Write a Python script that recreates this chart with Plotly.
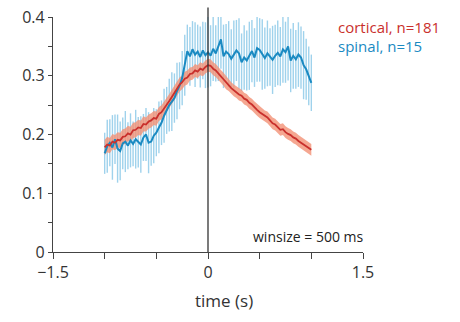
import numpy as np
import plotly.graph_objects as go

time = [round(-1 + 0.025 * i, 3) for i in range(81)]

cortical = [0.178, 0.183, 0.181, 0.188, 0.186, 0.191, 0.190, 0.196, 0.197, 0.202,
            0.200, 0.207, 0.208, 0.212, 0.211, 0.218, 0.217, 0.222, 0.224, 0.228,
            0.227, 0.235, 0.238, 0.244, 0.249, 0.257, 0.264, 0.272, 0.278, 0.285,
            0.289, 0.295, 0.297, 0.303, 0.304, 0.309, 0.307, 0.312, 0.310, 0.315,
            0.318, 0.317, 0.312, 0.309, 0.303, 0.299, 0.294, 0.288, 0.284, 0.279,
            0.275, 0.272, 0.268, 0.266, 0.261, 0.259, 0.254, 0.251, 0.246, 0.242,
            0.238, 0.235, 0.231, 0.229, 0.224, 0.219, 0.217, 0.212, 0.208, 0.209,
            0.204, 0.201, 0.199, 0.195, 0.193, 0.189, 0.186, 0.183, 0.179, 0.176,
            0.174]
cortical_err = [0.013, 0.013, 0.013, 0.013, 0.013, 0.013, 0.013, 0.013, 0.013, 0.013,
                0.013, 0.013, 0.013, 0.013, 0.013, 0.013, 0.012, 0.012, 0.012, 0.012,
                0.012, 0.012, 0.012, 0.012, 0.012, 0.012, 0.012, 0.012, 0.012, 0.012,
                0.012, 0.012, 0.012, 0.011, 0.011, 0.011, 0.011, 0.011, 0.011, 0.011,
                0.011, 0.011, 0.011, 0.011, 0.011, 0.011, 0.011, 0.011, 0.010, 0.010,
                0.010, 0.010, 0.010, 0.010, 0.010, 0.010, 0.010, 0.010, 0.010, 0.010,
                0.010, 0.010, 0.010, 0.010, 0.010, 0.010, 0.010, 0.010, 0.010, 0.010,
                0.010, 0.010, 0.010, 0.010, 0.010, 0.010, 0.010, 0.010, 0.010, 0.010,
                0.010]

spinal = [0.168, 0.180, 0.186, 0.178, 0.192, 0.176, 0.172, 0.185, 0.188, 0.181,
          0.190, 0.184, 0.192, 0.187, 0.183, 0.195, 0.200, 0.186, 0.188, 0.198,
          0.203, 0.212, 0.220, 0.232, 0.241, 0.250, 0.256, 0.262, 0.274, 0.283,
          0.296, 0.318, 0.342, 0.333, 0.345, 0.336, 0.341, 0.332, 0.343, 0.335,
          0.340, 0.334, 0.346, 0.338, 0.349, 0.362, 0.333, 0.341, 0.337, 0.329,
          0.336, 0.343, 0.338, 0.323, 0.331, 0.326, 0.334, 0.342, 0.331, 0.347,
          0.344, 0.336, 0.330, 0.338, 0.332, 0.327, 0.334, 0.339, 0.333, 0.345,
          0.340, 0.350, 0.326, 0.334, 0.328, 0.336, 0.331, 0.318, 0.311, 0.300,
          0.288]
spinal_err = [0.035, 0.045, 0.040, 0.055, 0.042, 0.058, 0.050, 0.044, 0.052, 0.040,
              0.046, 0.038, 0.050, 0.043, 0.048, 0.040, 0.045, 0.052, 0.041, 0.047,
              0.040, 0.044, 0.038, 0.046, 0.040, 0.045, 0.050, 0.042, 0.048, 0.040,
              0.046, 0.052, 0.045, 0.050, 0.048, 0.055, 0.046, 0.052, 0.049, 0.056,
              0.060, 0.052, 0.055, 0.048, 0.058, 0.050, 0.054, 0.047, 0.056, 0.050,
              0.058, 0.052, 0.060, 0.049, 0.055, 0.051, 0.058, 0.053, 0.050, 0.057,
              0.054, 0.060, 0.052, 0.056, 0.049, 0.058, 0.053, 0.055, 0.050, 0.057,
              0.052, 0.058, 0.054, 0.056, 0.050, 0.055, 0.053, 0.058, 0.052, 0.050,
              0.048]

x_ticks = [-1.5, -1.0, -0.5, 0.0, 0.5, 1.0, 1.5]
x_ticktext = ["\u22121.5", "", "", "0", "", "", "1.5"]
y_ticks = [0, 0.05, 0.1, 0.15, 0.2, 0.25, 0.3, 0.35, 0.4]
y_ticktext = ["0", "", "0.1", "", "0.2", "", "0.3", "", "0.4"]

RED = "#c9302c"
BLUE = "#1a8ac2"
BLUE_ERR = "#9fd2ec"
FONT = "Open Sans"

c = np.array(cortical)
ce = np.array(cortical_err)

fig = go.Figure()
fig.add_trace(go.Scatter(
    x=time, y=spinal, mode="markers", marker=dict(size=0.1, color=BLUE_ERR, opacity=0),
    error_y=dict(type="data", array=spinal_err, visible=True, color=BLUE_ERR, thickness=1.4, width=0),
    showlegend=False, hoverinfo="skip"))
fig.add_trace(go.Scatter(x=time, y=list(c + ce), mode="lines", line=dict(width=0, color="#f4a08a"),
                         showlegend=False, hoverinfo="skip"))
fig.add_trace(go.Scatter(x=time, y=list(c - ce), mode="lines", line=dict(width=0, color="#f4a08a"),
                         fill="tonexty", fillcolor="rgba(243,145,118,0.8)",
                         showlegend=False, hoverinfo="skip"))
fig.add_trace(go.Scatter(x=time, y=spinal, mode="lines", line=dict(color=BLUE, width=2),
                         showlegend=False))
fig.add_trace(go.Scatter(x=time, y=cortical, mode="lines", line=dict(color=RED, width=1.8),
                         showlegend=False))

fig.add_shape(type="line", xref="paper", yref="paper", x0=0.5, x1=0.5, y0=0, y1=1.04,
              line=dict(color="#333", width=1.3))

fig.add_annotation(text="cortical, n=181", xref="paper", yref="paper", x=1.0, y=1.0,
                   xanchor="left", yanchor="middle", xshift=-27, yshift=-10, showarrow=False,
                   font=dict(color=RED, size=15, family=FONT))
fig.add_annotation(text="spinal, n=15", xref="paper", yref="paper", x=1.0, y=1.0,
                   xanchor="left", yanchor="middle", xshift=-27, yshift=-29, showarrow=False,
                   font=dict(color=BLUE, size=15, family=FONT))
fig.add_annotation(text="winsize = 500 ms", xref="paper", yref="paper", x=1.0, y=0,
                   xanchor="right", yanchor="middle", xshift=2, yshift=16, showarrow=False,
                   font=dict(color="#222", size=14, family=FONT))
fig.add_annotation(text="time (s)", xref="paper", yref="paper", x=0.5, y=0,
                   xanchor="center", yanchor="middle", xshift=16, yshift=-48, showarrow=False,
                   font=dict(color="#333", size=17, family=FONT))

fig.update_layout(
    width=460, height=322,
    margin=dict(l=53, r=97, t=17, b=70),
    paper_bgcolor="white", plot_bgcolor="white",
    font=dict(family=FONT, size=16, color="#333"),
    xaxis=dict(range=[-1.5, 1.5], tickvals=x_ticks, ticktext=x_ticktext, ticks="outside",
               ticklen=6, tickwidth=1.3, tickcolor="#444", showline=True, linecolor="#444",
               linewidth=1.3, showgrid=False, zeroline=False, automargin=False),
    yaxis=dict(range=[0, 0.4], tickvals=y_ticks, ticktext=y_ticktext, ticks="outside",
               ticklen=4, tickwidth=1.3, tickcolor="#444", showline=True, linecolor="#444",
               linewidth=1.3, showgrid=False, zeroline=False, automargin=False),
)

# remove the browser's default 8px body margin so the 460x322 figure fills the window
fig.write_html("out.html", config={"displayModeBar": False},
               post_script="document.body.style.margin='0';")
